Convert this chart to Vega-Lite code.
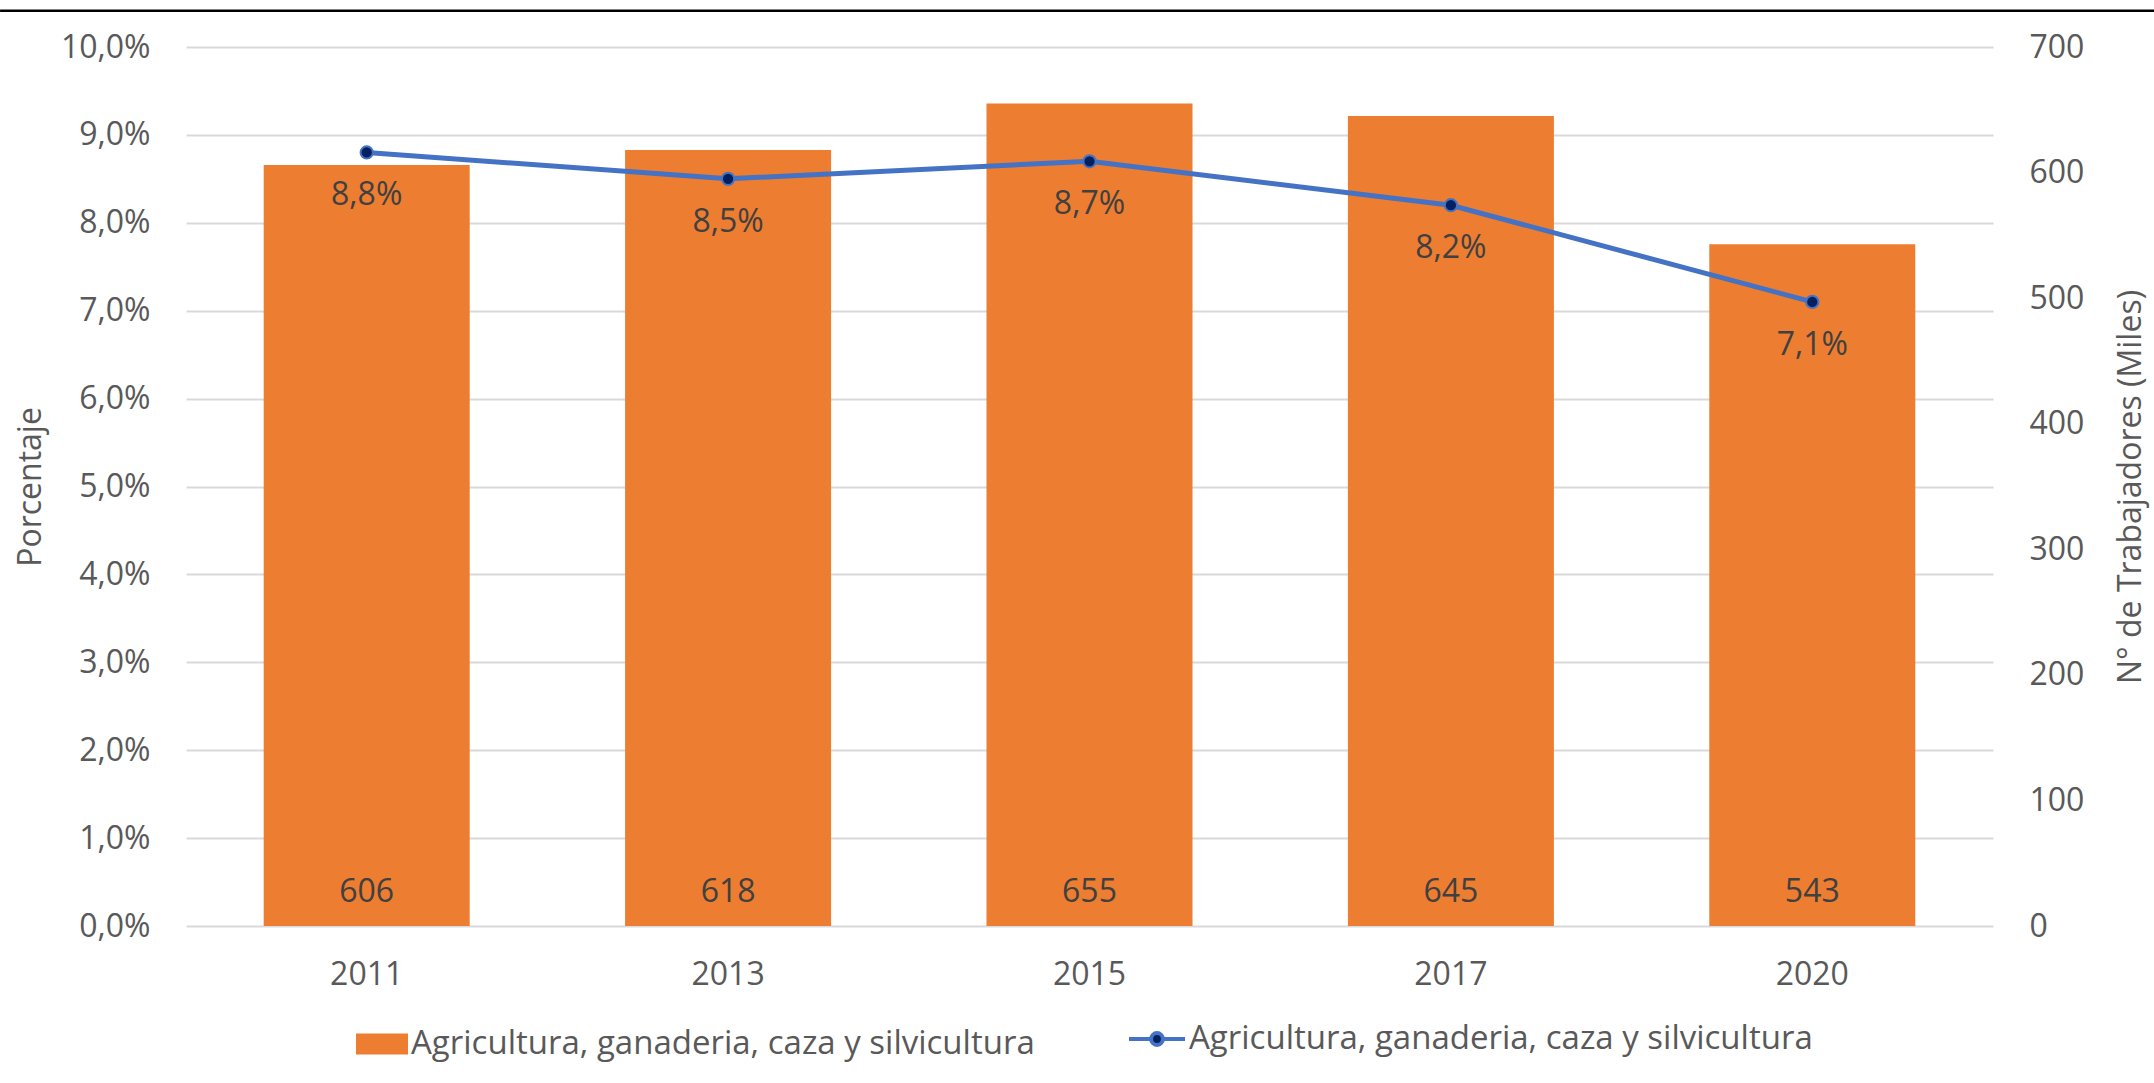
{
  "$schema": "https://vega.github.io/schema/vega-lite/v6.json",
  "width": 1807,
  "height": 879,
  "autosize": {"type": "none"},
  "padding": {"left": 186, "top": 47, "right": 161, "bottom": 157},
  "background": "white",
  "config": {
    "locale": {"number": {"decimal": ",", "thousands": ".", "grouping": [3], "currency": ["", " €"]}},
    "font": "Open Sans",
    "view": {"stroke": null},
    "axis": {"labelFont": "Open Sans", "labelFontSize": 32, "labelColor": "#595959", "titleFont": "Open Sans", "titleFontSize": 32, "titleColor": "#595959", "titleFontWeight": "normal", "domain": false, "ticks": false},
    "legend": {"labelFont": "Open Sans", "labelFontSize": 33, "labelColor": "#595959", "padding": 0, "labelLimit": 1000}
  },
  "data": {"values": [
    {"year": "2011", "trab": 606, "pct": 0.088},
    {"year": "2013", "trab": 618, "pct": 0.085},
    {"year": "2015", "trab": 655, "pct": 0.087},
    {"year": "2017", "trab": 645, "pct": 0.082},
    {"year": "2020", "trab": 543, "pct": 0.071}
  ]},
  "layer": [
    {
      "encoding": {
        "x": {"field": "year", "type": "ordinal", "scale": {"type": "band", "paddingInner": 0.43, "paddingOuter": 0.215},
              "axis": {"title": null, "labelAngle": 0, "labelPadding": 33, "grid": false}}
      },
      "layer": [
        {
          "mark": {"type": "bar", "color": "#ED7D31"},
          "encoding": {
            "y": {"field": "trab", "type": "quantitative", "scale": {"domain": [0, 700], "nice": false},
                  "axis": {"orient": "right", "values": [0, 100, 200, 300, 400, 500, 600, 700], "grid": false, "labelPadding": 36,
                           "title": "N° de Trabajadores (Miles)", "titleAngle": 270, "titlePadding": 64}},
            "fill": {"datum": "Agricultura, ganaderia, caza y silvicultura", "type": "nominal", "scale": {"range": ["#ED7D31"]},
                     "legend": {"orient": "none", "legendX": 170, "legendY": 971, "title": null, "direction": "horizontal",
                                "symbolType": "M-1,-0.4H1V0.4H-1Z", "symbolSize": 2704, "symbolStrokeWidth": 0, "labelOffset": 3}}
          }
        },
        {
          "mark": {"type": "text", "dy": -34, "fontSize": 32, "color": "#404040", "baseline": "middle", "font": "Open Sans"},
          "encoding": {
            "y": {"datum": 0, "type": "quantitative"},
            "text": {"field": "trab", "type": "quantitative", "format": "d"}
          }
        }
      ]
    },
    {
      "encoding": {
        "x": {"field": "year", "type": "ordinal", "scale": {"type": "band", "paddingInner": 0.43, "paddingOuter": 0.215}, "axis": null},
        "y": {"field": "pct", "type": "quantitative", "scale": {"domain": [0, 0.1], "nice": false},
              "axis": {"orient": "left", "format": ".1%", "values": [0, 0.01, 0.02, 0.03, 0.04, 0.05, 0.06, 0.07, 0.08, 0.09, 0.1],
                       "grid": true, "gridColor": "#D9D9D9", "gridWidth": 2, "labelPadding": 36, "title": "Porcentaje", "titlePadding": 13}}
      },
      "layer": [
        {
          "mark": {"type": "line", "strokeWidth": 5},
          "encoding": {
            "stroke": {"datum": "Agricultura, ganaderia, caza y silvicultura", "type": "nominal", "scale": {"range": ["#4472C4"]},
                       "legend": {"orient": "none", "legendX": 941, "legendY": 962, "title": null, "direction": "horizontal",
                                  "symbolType": "M-1,0H-0.21M0.21,0H1M0.21,0A0.21,0.21 0 1,1 -0.21,0A0.21,0.21 0 1,1 0.21,0Z",
                                  "symbolSize": 3136, "symbolStrokeWidth": 4, "symbolFillColor": "#002060", "symbolOpacity": 1, "labelOffset": 2}}
          }
        },
        {
          "mark": {"type": "point", "filled": true, "fill": "#002060", "stroke": "#4472C4", "strokeWidth": 2, "size": 150, "opacity": 1}
        },
        {
          "mark": {"type": "text", "dy": 43, "fontSize": 32, "color": "#404040", "baseline": "middle", "font": "Open Sans"},
          "encoding": {
            "text": {"field": "pct", "type": "quantitative", "format": ".1%"}
          }
        }
      ]
    },
    {
      "data": {"values": [{"x0": -0.1029, "x1": 1.0891, "yv": 0.10412}]},
      "mark": {"type": "rule", "color": "#000000", "strokeWidth": 2.5, "clip": false},
      "encoding": {
        "x": {"field": "x0", "type": "quantitative", "scale": {"domain": [0, 1], "nice": false, "zero": false}, "axis": null},
        "x2": {"field": "x1"},
        "y": {"field": "yv", "type": "quantitative", "scale": {"domain": [0, 0.1], "nice": false}, "axis": null}
      }
    }
  ],
  "resolve": {"scale": {"x": "independent", "y": "independent", "fill": "independent", "stroke": "independent"},
              "legend": {"fill": "independent", "stroke": "independent"}}
}
